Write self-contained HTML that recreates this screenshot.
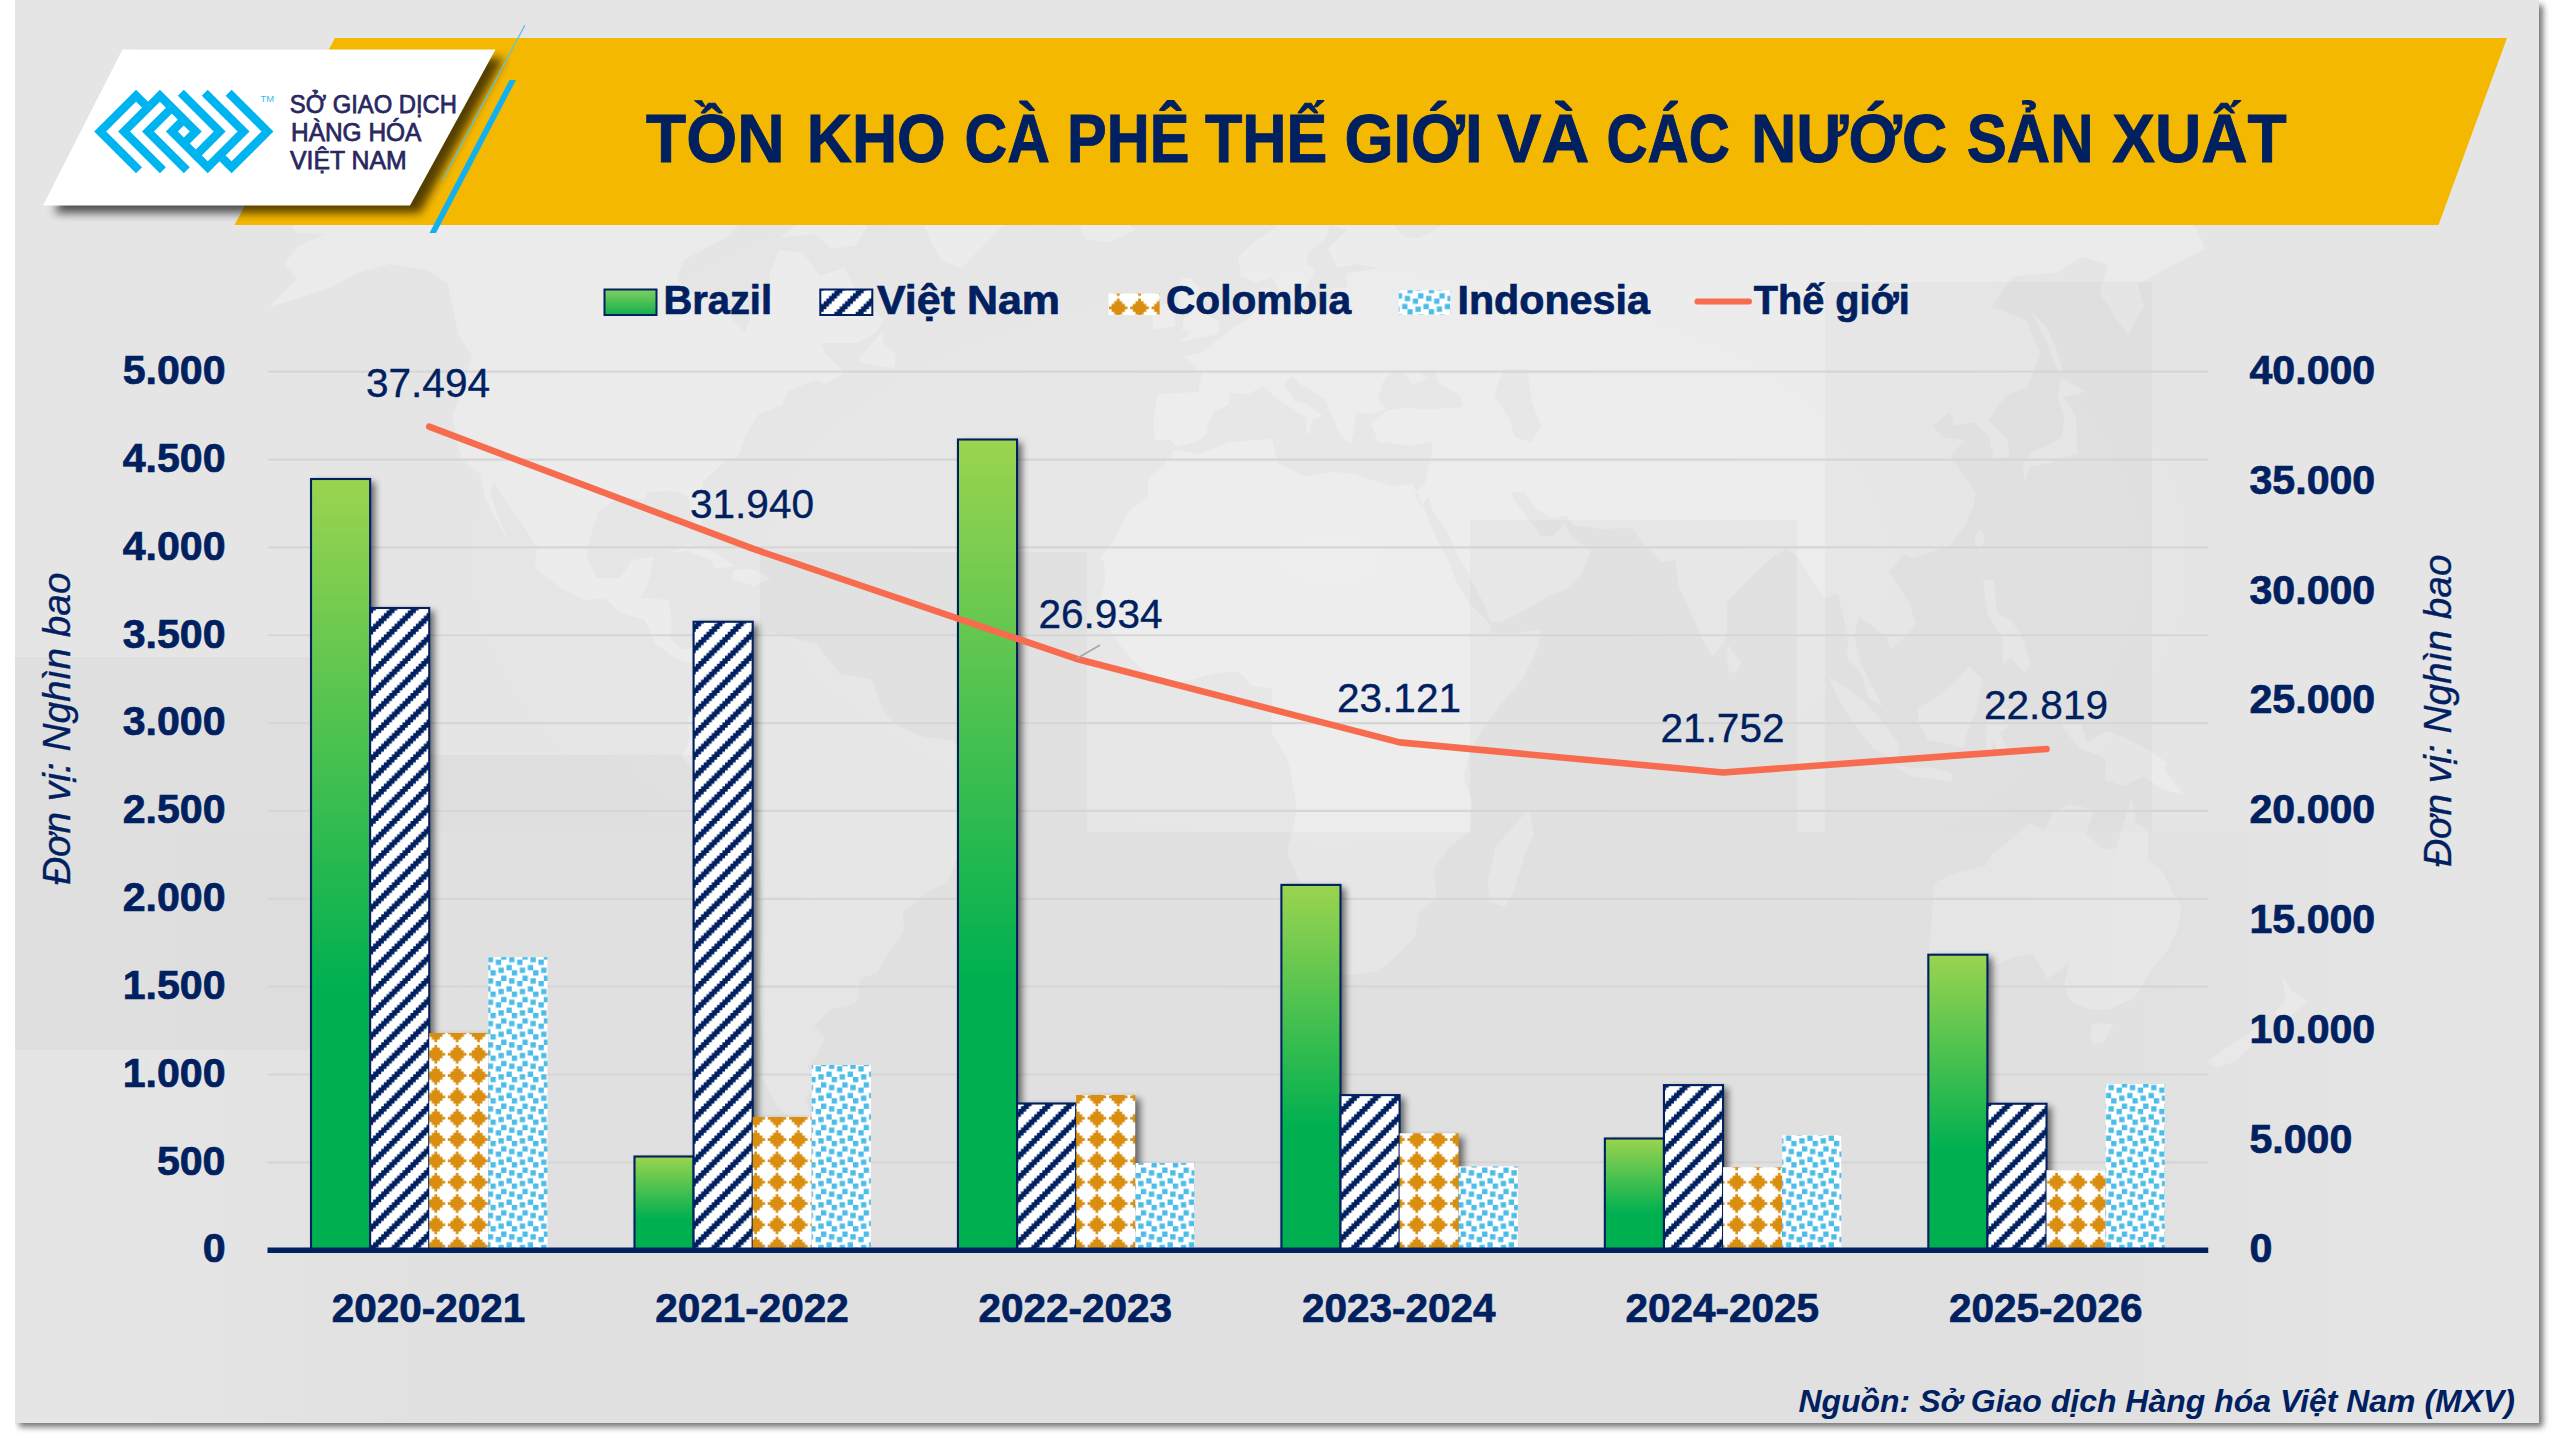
<!DOCTYPE html>
<html lang="vi"><head><meta charset="utf-8">
<title>Tồn kho cà phê thế giới và các nước sản xuất</title>
<style>
html,body{margin:0;padding:0;background:#fff;}
body{width:2559px;height:1439px;overflow:hidden;}
svg{display:block;}
text{font-family:'Liberation Sans', sans-serif;}
.b{font-size:40px;font-weight:bold;fill:#002060;stroke:#002060;stroke-width:0.7px;}
.d{font-size:40px;fill:#002060;stroke:#002060;stroke-width:0.35px;}
.lg{font-size:25px;fill:#2a2860;stroke:#2a2860;stroke-width:0.75px;}
</style></head><body>
<svg width="2559" height="1439" viewBox="0 0 2559 1439">
<defs>
<radialGradient id="bgg" gradientUnits="userSpaceOnUse" cx="1330" cy="560" r="1000" gradientTransform="translate(1330 560) scale(1 0.5) translate(-1330 -560)">
<stop offset="0" stop-color="#fff" stop-opacity="0.10"/><stop offset="0.55" stop-color="#fff" stop-opacity="0.06"/><stop offset="1" stop-color="#fff" stop-opacity="0"/>
</radialGradient>
<linearGradient id="bandg" gradientUnits="userSpaceOnUse" x1="15" y1="0" x2="2539" y2="0">
<stop offset="0.04" stop-color="#000" stop-opacity="0"/><stop offset="0.2" stop-color="#000" stop-opacity="0.024"/><stop offset="0.8" stop-color="#000" stop-opacity="0.024"/><stop offset="0.96" stop-color="#000" stop-opacity="0"/>
</linearGradient>
<filter id="panelsh" x="-2%" y="-2%" width="104%" height="104%"><feGaussianBlur stdDeviation="3.2"/></filter>
<filter id="logosh" x="-20%" y="-30%" width="140%" height="170%"><feGaussianBlur stdDeviation="5"/></filter>
<filter id="barsh" x="-50%" y="-5%" width="220%" height="110%"><feGaussianBlur stdDeviation="3.6"/></filter>
<linearGradient id="gBrazil" x1="0" y1="0" x2="0" y2="1">
<stop offset="0" stop-color="#9bd44f"/><stop offset="0.66" stop-color="#00b050"/><stop offset="1" stop-color="#00b050"/>
</linearGradient>
<linearGradient id="gBrazilL" x1="0" y1="0" x2="0" y2="1">
<stop offset="0" stop-color="#7fd060"/><stop offset="1" stop-color="#12b04c"/>
</linearGradient>

<pattern id="pVN" patternUnits="userSpaceOnUse" x="0" y="0" width="21.325" height="21.325" viewBox="0 0 8 8"><rect x="0" y="0" width="8" height="8" fill="#ffffff"/><path d="M0 0h1v1h-1zM6 0h2v1h-2zM5 1h3v1h-3zM4 2h3v1h-3zM3 3h3v1h-3zM2 4h3v1h-3zM1 5h3v1h-3zM0 6h3v1h-3zM0 7h2v1h-2zM7 7h1v1h-1z" fill="#002060"/></pattern>
<pattern id="pCO" patternUnits="userSpaceOnUse" x="0" y="0" width="21.325" height="21.325" viewBox="0 0 8 8"><rect x="0" y="0" width="8" height="8" fill="#ffffff"/><path d="M3 0h1v1h-1zM2 1h3v1h-3zM1 2h5v1h-5zM0 3h7v1h-7zM1 4h5v1h-5zM2 5h3v1h-3zM3 6h1v1h-1z" fill="#d98e10"/></pattern>
<pattern id="pID" patternUnits="userSpaceOnUse" x="0" y="0" width="21.325" height="21.325" viewBox="0 0 8 8"><rect x="0" y="0" width="8" height="8" fill="#ffffff"/><path d="M0 0h1v1h-1zM2 0h2v1h-2zM7 0h1v1h-1zM2 1h2v1h-2zM6 2h2v1h-2zM3 3h2v1h-2zM6 3h2v1h-2zM0 4h2v1h-2zM3 4h2v1h-2zM0 5h2v1h-2zM4 6h2v1h-2zM0 7h1v1h-1zM4 7h2v1h-2zM7 7h1v1h-1z" fill="#4cbce8"/></pattern>
</defs>
<rect x="19" y="5" width="2524" height="1422" fill="#000" opacity="0.55" filter="url(#panelsh)"/>
<rect x="0" y="0" width="15" height="1439" fill="#fff"/>
<rect x="15" y="0" width="2524" height="1423" fill="#e5e5e5"/>
<rect x="15" y="0" width="2524" height="1423" fill="url(#bgg)"/>
<clipPath id="mapclip"><rect x="15" y="225" width="2524" height="1198"/></clipPath>
<path d="M292 227L318 204L384 186L458 195L528 193L590 208L628 208L693 208L716 178L756 197L774 208L741 223L725 238L684 260L677 278L684 290L721 303L733 321L745 332L753 309L772 294L769 276L779 250L803 253L820 276L844 268L858 294L884 320L876 332L857 343L821 343L825 354L845 373L825 384L814 380L787 392L782 405L759 414L746 433L739 456L722 464L703 482L704 516L699 529L691 519L690 500L683 493L670 491L648 492L644 500L619 497L598 512L590 538L587 557L597 578L620 578L632 560L654 557L648 583L640 598L669 600L672 624L670 639L682 650L695 647L708 654L701 662L688 663L672 656L655 643L645 620L620 613L605 598L585 600L561 588L535 568L537 549L525 528L503 497L494 482L490 493L501 523L510 544L500 527L486 500L480 474L462 459L456 437L452 416L460 396L472 356L459 336L453 309L448 283L427 270L390 264L357 273L332 287L300 298L269 307L297 279L284 264L298 246L325 234L298 233ZM841 133L871 118L916 103L992 92L1065 92L1112 107L1119 133L1106 163L1093 189L1060 204L1031 216L1002 227L976 253L962 268L941 260L929 238L920 216L922 193L917 170L903 148L863 144ZM708 654L725 636L745 628L747 643L770 632L796 639L815 643L840 673L872 680L885 714L898 726L924 737L950 740L980 759L983 782L971 804L959 830L957 857L948 883L930 890L903 913L904 932L891 950L877 973L860 979L857 1003L830 1010L814 1026L825 1037L817 1056L807 1067L819 1078L805 1100L812 1116L799 1123L778 1108L762 1078L764 1048L761 1018L759 988L762 950L763 906L759 860L734 838L716 816L698 778L682 756L690 737L687 718L700 703L707 684ZM1174 450L1198 454L1229 442L1272 439L1278 463L1304 476L1335 472L1354 474L1392 486L1413 484L1424 508L1436 538L1448 560L1457 583L1468 602L1490 624L1491 633L1514 633L1541 630L1537 650L1522 680L1502 703L1483 729L1470 752L1463 778L1472 800L1471 830L1448 849L1434 868L1436 898L1419 913L1415 936L1398 954L1378 972L1347 975L1325 975L1320 950L1308 920L1302 887L1287 853L1297 808L1289 763L1272 733L1272 703L1272 688L1252 686L1239 672L1216 673L1191 680L1161 685L1139 667L1124 650L1113 636L1102 620L1098 607L1105 583L1104 564L1101 557L1115 538L1128 512L1147 497L1149 478L1166 463ZM1529 808L1534 834L1525 853L1514 890L1505 907L1489 902L1488 879L1496 846L1513 827ZM1155 440L1153 426L1157 394L1198 392L1202 373L1183 356L1201 353L1219 339L1233 328L1251 317L1259 306L1257 290L1270 287L1270 302L1282 311L1314 307L1331 302L1333 287L1347 288L1346 273L1368 270L1379 268L1356 264L1337 268L1328 249L1347 230L1330 224L1326 238L1308 253L1307 264L1316 270L1304 290L1301 298L1285 302L1272 277L1255 283L1241 276L1238 257L1254 242L1276 227L1291 208L1314 193L1345 186L1375 191L1432 216L1431 223L1400 219L1390 221L1403 236L1417 238L1430 233L1449 221L1447 206L1500 204L1531 200L1563 198L1570 186L1594 178L1600 216L1609 208L1620 178L1659 156L1721 146L1740 137L1797 163L1874 170L1903 186L1943 173L2014 186L2063 195L2118 197L2176 203L2197 230L2205 249L2167 268L2138 284L2144 306L2128 336L2100 294L2108 264L2081 257L2057 273L2013 276L1992 307L2027 320L2040 354L2027 388L2008 394L1997 407L1989 420L2007 440L2010 456L1994 459L1989 437L1975 422L1954 426L1950 412L1933 426L1943 438L1965 440L1950 456L1966 478L1976 493L1973 508L1964 527L1949 546L1934 551L1913 558L1903 555L1889 572L1909 602L1916 624L1903 639L1890 650L1888 639L1872 626L1859 617L1854 636L1862 666L1883 707L1868 697L1861 673L1847 658L1848 639L1838 594L1825 598L1816 587L1798 557L1787 549L1775 555L1765 564L1749 579L1727 602L1727 628L1725 641L1712 657L1702 639L1691 613L1679 587L1675 560L1661 562L1650 551L1639 538L1632 528L1600 529L1573 525L1567 516L1552 518L1535 508L1524 492L1511 493L1517 504L1527 518L1537 530L1540 536L1553 536L1565 523L1569 534L1585 546L1591 551L1581 576L1564 590L1545 598L1520 613L1501 622L1490 622L1485 606L1473 583L1459 557L1446 530L1431 508L1429 497L1421 506L1415 493L1425 483L1432 452L1432 442L1411 446L1398 444L1378 442L1371 423L1387 410L1402 408L1432 409L1462 407L1461 396L1439 384L1434 369L1419 373L1429 378L1412 384L1404 373L1394 369L1383 382L1378 399L1386 409L1372 414L1356 412L1354 433L1351 444L1341 437L1329 410L1325 399L1300 384L1292 376L1284 384L1295 401L1307 404L1323 416L1312 420L1310 433L1306 433L1307 418L1285 404L1274 396L1263 386L1249 394L1229 393L1229 404L1214 412L1208 426L1206 435L1196 442L1176 447L1170 440ZM1503 369L1527 369L1532 403L1541 426L1531 442L1515 437L1509 418L1494 396ZM1178 343L1218 334L1220 322L1210 317L1201 304L1199 287L1190 278L1182 278L1176 294L1182 307L1193 313L1184 318L1182 330L1192 332ZM1175 326L1175 304L1164 304L1152 313L1153 330ZM1079 227L1090 220L1123 220L1136 230L1110 242L1086 239ZM2024 484L2030 467L2049 463L2060 458L2077 454L2077 433L2075 414L2063 397L2085 392L2061 377L2058 396L2064 418L2062 437L2050 444L2031 453L2023 463ZM1829 677L1847 688L1866 703L1886 726L1899 744L1897 762L1873 748L1853 722L1837 696ZM1893 765L1914 768L1930 767L1953 774L1951 782L1910 776ZM1918 707L1935 699L1957 680L1969 666L1983 680L1976 710L1967 733L1964 748L1944 743L1928 740L1918 722ZM1987 714L1996 709L2019 709L2003 720L2009 726L2000 733L2009 752L1999 754L1993 740L1991 759L1986 744ZM2061 724L2081 724L2087 743L2107 731L2126 738L2152 752L2167 763L2164 770L2184 795L2162 789L2144 776L2124 786L2105 780L2106 759L2080 748L2071 738ZM1983 579L1994 581L1997 613L2011 620L2022 636L2031 666L2025 673L2011 658L2002 666L2003 639L1987 613ZM1728 645L1741 662L1736 673L1729 672L1727 658ZM1978 529L1985 534L1981 553L1974 542ZM2031 311L2047 328L2056 348L2063 373L2057 369L2047 343ZM1934 883L1932 913L1929 954L1924 975L1942 980L1978 973L2017 956L2033 954L2047 979L2069 964L2064 985L2071 1002L2090 1009L2108 1010L2134 998L2152 969L2168 950L2178 928L2181 906L2171 890L2163 872L2148 860L2148 830L2136 823L2132 798L2125 819L2116 849L2103 849L2086 834L2094 810L2070 804L2053 812L2045 830L2029 823L2008 842L1993 853L1985 866L1955 873ZM2092 1023L2113 1024L2104 1042L2094 1045L2090 1037ZM2282 976L2293 992L2308 1001L2293 1014L2275 1030L2278 1016L2274 1013L2286 999ZM2263 1022L2268 1031L2252 1046L2234 1062L2216 1068L2207 1062L2225 1048L2247 1035ZM668 553L688 544L713 551L735 566L714 569L711 560L687 551ZM733 570L752 569L771 578L754 586L732 580ZM784 193L830 182L848 193L874 216L855 246L832 249L814 234L780 238L817 208ZM857 361L882 332L883 343L896 354L894 368L878 366Z" fill="#fff" fill-rule="evenodd" opacity="0.26" clip-path="url(#mapclip)"/>
<rect x="15" y="657" width="362" height="393" fill="#000" opacity="0.022"/>
<rect x="405" y="755" width="327" height="77" fill="#000" opacity="0.022"/>
<rect x="760" y="552" width="327" height="280" fill="#000" opacity="0.022"/>
<rect x="1470" y="520" width="327" height="312" fill="#000" opacity="0.022"/>
<rect x="1825" y="282" width="327" height="550" fill="#000" opacity="0.022"/>
<rect x="15" y="832" width="2524" height="591" fill="url(#bandg)"/>
<polygon points="335,38 2507,38 2438.5,225 234.5,225" fill="#f4b800"/>
<polygon points="132,58 504,58 420,213 54,213" fill="#000" opacity="0.66" filter="url(#logosh)"/>
<polygon points="122.5,49.5 495.5,49.5 410,205.5 43,205.5" fill="#ffffff"/>
<line x1="525" y1="25" x2="442.5" y2="180" stroke="#5fc2e0" stroke-width="1.3"/>
<polygon points="509.5,80 516,80 436,233 429.5,233" fill="#12b0ee"/>
<path transform="matrix(5.975 5.975 5.975 -5.975 94.2 131.5)" d="M0 0H1V7H0zM0 0H7V1H0zM0 6H3V7H0zM2 2H3V9H2zM2 2H9V3H2zM2 8H9V9H2zM4 4H5V9H4zM4 4H11V5H4zM6 6H7V9H6zM6 6H13V7H6zM8 6H9V9H8zM4 10H11V11H4zM10 6H11V11H10zM6 12H13V13H6zM12 6H13V13H12zM8 14H15V15H8zM14 8H15V15H14zM12 8H15V9H12z" fill="#00b5ef"/>
<text x="260.5" y="101.6" font-size="9" fill="#35bdf0" textLength="13.5" lengthAdjust="spacingAndGlyphs">TM</text>
<text x="289.8" y="112.7" class="lg" textLength="167.2" lengthAdjust="spacingAndGlyphs">SỞ GIAO DỊCH</text>
<text x="291" y="141.1" class="lg" textLength="130.4" lengthAdjust="spacingAndGlyphs">HÀNG HÓA</text>
<text x="290" y="169.1" class="lg" textLength="116.7" lengthAdjust="spacingAndGlyphs">VIỆT NAM</text>
<text y="162.4" font-size="68" font-weight="bold" fill="#002060" stroke="#002060" stroke-width="0.9" xml:space="preserve"><tspan x="646.1" textLength="138.4" lengthAdjust="spacingAndGlyphs">TỒN</tspan> <tspan x="806.7" textLength="139.1" lengthAdjust="spacingAndGlyphs">KHO</tspan> <tspan x="964.6" textLength="85.4" lengthAdjust="spacingAndGlyphs">CÀ</tspan> <tspan x="1067.1" textLength="122.4" lengthAdjust="spacingAndGlyphs">PHÊ</tspan> <tspan x="1204.9" textLength="122.3" lengthAdjust="spacingAndGlyphs">THẾ</tspan> <tspan x="1344.4" textLength="138.1" lengthAdjust="spacingAndGlyphs">GIỚI</tspan> <tspan x="1497.3" textLength="92.1" lengthAdjust="spacingAndGlyphs">VÀ</tspan> <tspan x="1606.5" textLength="123.3" lengthAdjust="spacingAndGlyphs">CÁC</tspan> <tspan x="1751.0" textLength="196.3" lengthAdjust="spacingAndGlyphs">NƯỚC</tspan> <tspan x="1966.8" textLength="126.7" lengthAdjust="spacingAndGlyphs">SẢN</tspan> <tspan x="2112.3" textLength="174.4" lengthAdjust="spacingAndGlyphs">XUẤT</tspan></text>
<rect x="604.5" y="289.5" width="52" height="25.5" fill="url(#gBrazilL)" stroke="#002060" stroke-width="2"/>
<rect x="820.3" y="289.5" width="52" height="25.5" fill="url(#pVN)" stroke="#002060" stroke-width="2"/>
<rect x="1108.6" y="293.5" width="51" height="21.5" fill="url(#pCO)"/>
<rect x="1398.8" y="290.3" width="51.5" height="24.6" fill="url(#pID)"/>
<line x1="1697.5" y1="301.6" x2="1749" y2="301.6" stroke="#f76c4f" stroke-width="6" stroke-linecap="round"/>
<text x="663.4" y="314" class="b" textLength="108.6" lengthAdjust="spacingAndGlyphs">Brazil</text>
<text x="877" y="314" class="b" textLength="183" lengthAdjust="spacingAndGlyphs">Việt Nam</text>
<text x="1166" y="314" class="b" textLength="185" lengthAdjust="spacingAndGlyphs">Colombia</text>
<text x="1457.5" y="314" class="b" textLength="192.3" lengthAdjust="spacingAndGlyphs">Indonesia</text>
<text x="1753.7" y="314" class="b" textLength="156" lengthAdjust="spacingAndGlyphs">Thế giới</text>
<line x1="267.5" y1="1162.35" x2="2208.25" y2="1162.35" stroke="#d6d6d6" stroke-width="2.2"/>
<line x1="267.5" y1="1074.50" x2="2208.25" y2="1074.50" stroke="#d6d6d6" stroke-width="2.2"/>
<line x1="267.5" y1="986.65" x2="2208.25" y2="986.65" stroke="#d6d6d6" stroke-width="2.2"/>
<line x1="267.5" y1="898.80" x2="2208.25" y2="898.80" stroke="#d6d6d6" stroke-width="2.2"/>
<line x1="267.5" y1="810.95" x2="2208.25" y2="810.95" stroke="#d6d6d6" stroke-width="2.2"/>
<line x1="267.5" y1="723.10" x2="2208.25" y2="723.10" stroke="#d6d6d6" stroke-width="2.2"/>
<line x1="267.5" y1="635.25" x2="2208.25" y2="635.25" stroke="#d6d6d6" stroke-width="2.2"/>
<line x1="267.5" y1="547.40" x2="2208.25" y2="547.40" stroke="#d6d6d6" stroke-width="2.2"/>
<line x1="267.5" y1="459.55" x2="2208.25" y2="459.55" stroke="#d6d6d6" stroke-width="2.2"/>
<line x1="267.5" y1="371.70" x2="2208.25" y2="371.70" stroke="#d6d6d6" stroke-width="2.2"/>
<clipPath id="plotclip"><rect x="267.5" y="300" width="1940.75" height="950.2"/></clipPath>
<g clip-path="url(#plotclip)"><rect x="316.03" y="482.00" width="59.10" height="768.20" fill="#000" opacity="0.55" filter="url(#barsh)"/></g>
<g clip-path="url(#plotclip)"><rect x="639.49" y="1159.50" width="59.10" height="90.70" fill="#000" opacity="0.55" filter="url(#barsh)"/></g>
<g clip-path="url(#plotclip)"><rect x="962.95" y="442.50" width="59.10" height="807.70" fill="#000" opacity="0.55" filter="url(#barsh)"/></g>
<g clip-path="url(#plotclip)"><rect x="1286.40" y="887.90" width="59.10" height="362.30" fill="#000" opacity="0.55" filter="url(#barsh)"/></g>
<g clip-path="url(#plotclip)"><rect x="1609.86" y="1141.50" width="59.10" height="108.70" fill="#000" opacity="0.55" filter="url(#barsh)"/></g>
<g clip-path="url(#plotclip)"><rect x="1933.32" y="957.70" width="59.10" height="292.50" fill="#000" opacity="0.55" filter="url(#barsh)"/></g>
<rect x="311.03" y="479.00" width="59.10" height="772.20" fill="url(#gBrazil)" stroke="#002060" stroke-width="2.1"/>
<rect x="634.49" y="1156.50" width="59.10" height="94.70" fill="url(#gBrazil)" stroke="#002060" stroke-width="2.1"/>
<rect x="957.95" y="439.50" width="59.10" height="811.70" fill="url(#gBrazil)" stroke="#002060" stroke-width="2.1"/>
<rect x="1281.40" y="884.90" width="59.10" height="366.30" fill="url(#gBrazil)" stroke="#002060" stroke-width="2.1"/>
<rect x="1604.86" y="1138.50" width="59.10" height="112.70" fill="url(#gBrazil)" stroke="#002060" stroke-width="2.1"/>
<rect x="1928.32" y="954.70" width="59.10" height="296.50" fill="url(#gBrazil)" stroke="#002060" stroke-width="2.1"/>
<g clip-path="url(#plotclip)"><rect x="375.13" y="611.00" width="59.10" height="639.20" fill="#000" opacity="0.55" filter="url(#barsh)"/></g>
<g clip-path="url(#plotclip)"><rect x="698.59" y="624.75" width="59.10" height="625.45" fill="#000" opacity="0.55" filter="url(#barsh)"/></g>
<g clip-path="url(#plotclip)"><rect x="1022.05" y="1106.50" width="59.10" height="143.70" fill="#000" opacity="0.55" filter="url(#barsh)"/></g>
<g clip-path="url(#plotclip)"><rect x="1345.50" y="1098.10" width="59.10" height="152.10" fill="#000" opacity="0.55" filter="url(#barsh)"/></g>
<g clip-path="url(#plotclip)"><rect x="1668.96" y="1088.10" width="59.10" height="162.10" fill="#000" opacity="0.55" filter="url(#barsh)"/></g>
<g clip-path="url(#plotclip)"><rect x="1992.42" y="1106.75" width="59.10" height="143.45" fill="#000" opacity="0.55" filter="url(#barsh)"/></g>
<rect x="370.13" y="608.00" width="59.10" height="643.20" fill="url(#pVN)" stroke="#002060" stroke-width="2.1"/>
<rect x="693.59" y="621.75" width="59.10" height="629.45" fill="url(#pVN)" stroke="#002060" stroke-width="2.1"/>
<rect x="1017.05" y="1103.50" width="59.10" height="147.70" fill="url(#pVN)" stroke="#002060" stroke-width="2.1"/>
<rect x="1340.50" y="1095.10" width="59.10" height="156.10" fill="url(#pVN)" stroke="#002060" stroke-width="2.1"/>
<rect x="1663.96" y="1085.10" width="59.10" height="166.10" fill="url(#pVN)" stroke="#002060" stroke-width="2.1"/>
<rect x="1987.42" y="1103.75" width="59.10" height="147.45" fill="url(#pVN)" stroke="#002060" stroke-width="2.1"/>
<g clip-path="url(#plotclip)"><rect x="434.23" y="1037.00" width="59.10" height="213.20" fill="#000" opacity="0.55" filter="url(#barsh)"/></g>
<g clip-path="url(#plotclip)"><rect x="757.69" y="1121.00" width="59.10" height="129.20" fill="#000" opacity="0.55" filter="url(#barsh)"/></g>
<g clip-path="url(#plotclip)"><rect x="1081.15" y="1099.00" width="59.10" height="151.20" fill="#000" opacity="0.55" filter="url(#barsh)"/></g>
<g clip-path="url(#plotclip)"><rect x="1404.60" y="1137.30" width="59.10" height="112.90" fill="#000" opacity="0.55" filter="url(#barsh)"/></g>
<g clip-path="url(#plotclip)"><rect x="1728.06" y="1171.20" width="59.10" height="79.00" fill="#000" opacity="0.55" filter="url(#barsh)"/></g>
<g clip-path="url(#plotclip)"><rect x="2051.52" y="1174.25" width="59.10" height="75.95" fill="#000" opacity="0.55" filter="url(#barsh)"/></g>
<rect x="429.23" y="1033.00" width="59.10" height="217.20" fill="url(#pCO)"/>
<rect x="752.69" y="1117.00" width="59.10" height="133.20" fill="url(#pCO)"/>
<rect x="1076.15" y="1095.00" width="59.10" height="155.20" fill="url(#pCO)"/>
<rect x="1399.60" y="1133.30" width="59.10" height="116.90" fill="url(#pCO)"/>
<rect x="1723.06" y="1167.20" width="59.10" height="83.00" fill="url(#pCO)"/>
<rect x="2046.52" y="1170.25" width="59.10" height="79.95" fill="url(#pCO)"/>
<rect x="488.33" y="957.20" width="59.10" height="293.00" fill="url(#pID)"/>
<rect x="811.79" y="1065.00" width="59.10" height="185.20" fill="url(#pID)"/>
<rect x="1135.25" y="1163.00" width="59.10" height="87.20" fill="url(#pID)"/>
<rect x="1458.70" y="1166.40" width="59.10" height="83.80" fill="url(#pID)"/>
<rect x="1782.16" y="1135.20" width="59.10" height="115.00" fill="url(#pID)"/>
<rect x="2105.62" y="1084.00" width="59.10" height="166.20" fill="url(#pID)"/>
<line x1="267.5" y1="1250.2" x2="2208.25" y2="1250.2" stroke="#002060" stroke-width="5.4"/>
<polyline points="429.2,426.7 752.7,548.7 1076.1,658.7 1399.6,742.4 1723.1,772.5 2046.5,749.0" fill="none" stroke="#f76c4f" stroke-width="6.6" stroke-linecap="round" stroke-linejoin="round"/>
<line x1="1077" y1="658.5" x2="1100" y2="645" stroke="#a6a6a6" stroke-width="1.6"/>
<text x="366" y="396.5" class="d" textLength="124" lengthAdjust="spacingAndGlyphs">37.494</text>
<text x="690" y="518" class="d" textLength="124" lengthAdjust="spacingAndGlyphs">31.940</text>
<text x="1038.5" y="628" class="d" textLength="124" lengthAdjust="spacingAndGlyphs">26.934</text>
<text x="1337" y="712" class="d" textLength="124" lengthAdjust="spacingAndGlyphs">23.121</text>
<text x="1660.5" y="742" class="d" textLength="124" lengthAdjust="spacingAndGlyphs">21.752</text>
<text x="1984" y="718.5" class="d" textLength="124" lengthAdjust="spacingAndGlyphs">22.819</text>
<text x="202.7" y="1262.4" class="b" textLength="22.9" lengthAdjust="spacingAndGlyphs">0</text>
<text x="156.9" y="1174.6" class="b" textLength="68.6" lengthAdjust="spacingAndGlyphs">500</text>
<text x="122.7" y="1086.7" class="b" textLength="102.8" lengthAdjust="spacingAndGlyphs">1.000</text>
<text x="122.7" y="998.9" class="b" textLength="102.8" lengthAdjust="spacingAndGlyphs">1.500</text>
<text x="122.7" y="911.0" class="b" textLength="102.8" lengthAdjust="spacingAndGlyphs">2.000</text>
<text x="122.7" y="823.2" class="b" textLength="102.8" lengthAdjust="spacingAndGlyphs">2.500</text>
<text x="122.7" y="735.3" class="b" textLength="102.8" lengthAdjust="spacingAndGlyphs">3.000</text>
<text x="122.7" y="647.5" class="b" textLength="102.8" lengthAdjust="spacingAndGlyphs">3.500</text>
<text x="122.7" y="559.6" class="b" textLength="102.8" lengthAdjust="spacingAndGlyphs">4.000</text>
<text x="122.7" y="471.8" class="b" textLength="102.8" lengthAdjust="spacingAndGlyphs">4.500</text>
<text x="122.7" y="383.9" class="b" textLength="102.8" lengthAdjust="spacingAndGlyphs">5.000</text>
<text x="2249.5" y="1262.4" class="b" textLength="22.9" lengthAdjust="spacingAndGlyphs">0</text>
<text x="2249.5" y="1152.6" class="b" textLength="102.8" lengthAdjust="spacingAndGlyphs">5.000</text>
<text x="2249.5" y="1042.8" class="b" textLength="125.7" lengthAdjust="spacingAndGlyphs">10.000</text>
<text x="2249.5" y="933.0" class="b" textLength="125.7" lengthAdjust="spacingAndGlyphs">15.000</text>
<text x="2249.5" y="823.2" class="b" textLength="125.7" lengthAdjust="spacingAndGlyphs">20.000</text>
<text x="2249.5" y="713.3" class="b" textLength="125.7" lengthAdjust="spacingAndGlyphs">25.000</text>
<text x="2249.5" y="603.5" class="b" textLength="125.7" lengthAdjust="spacingAndGlyphs">30.000</text>
<text x="2249.5" y="493.7" class="b" textLength="125.7" lengthAdjust="spacingAndGlyphs">35.000</text>
<text x="2249.5" y="383.9" class="b" textLength="125.7" lengthAdjust="spacingAndGlyphs">40.000</text>
<text x="331.7" y="1321.5" class="b" textLength="193.5" lengthAdjust="spacingAndGlyphs">2020-2021</text>
<text x="655.2" y="1321.5" class="b" textLength="193.5" lengthAdjust="spacingAndGlyphs">2021-2022</text>
<text x="978.6" y="1321.5" class="b" textLength="193.5" lengthAdjust="spacingAndGlyphs">2022-2023</text>
<text x="1302.1" y="1321.5" class="b" textLength="193.5" lengthAdjust="spacingAndGlyphs">2023-2024</text>
<text x="1625.6" y="1321.5" class="b" textLength="193.5" lengthAdjust="spacingAndGlyphs">2024-2025</text>
<text x="1949.0" y="1321.5" class="b" textLength="193.5" lengthAdjust="spacingAndGlyphs">2025-2026</text>
<text transform="translate(70 885) rotate(-90)" font-size="38" font-style="italic" fill="#002060" stroke="#002060" stroke-width="0.35" textLength="312.5" lengthAdjust="spacingAndGlyphs">Đơn vị: Nghìn bao</text>
<text transform="translate(2451 867) rotate(-90)" font-size="38" font-style="italic" fill="#002060" stroke="#002060" stroke-width="0.35" textLength="312.5" lengthAdjust="spacingAndGlyphs">Đơn vị: Nghìn bao</text>
<text x="1798.4" y="1411.6" font-size="32" font-weight="bold" font-style="italic" fill="#002060" textLength="716.6" lengthAdjust="spacingAndGlyphs">Nguồn: Sở Giao dịch Hàng hóa Việt Nam (MXV)</text>
</svg></body></html>
